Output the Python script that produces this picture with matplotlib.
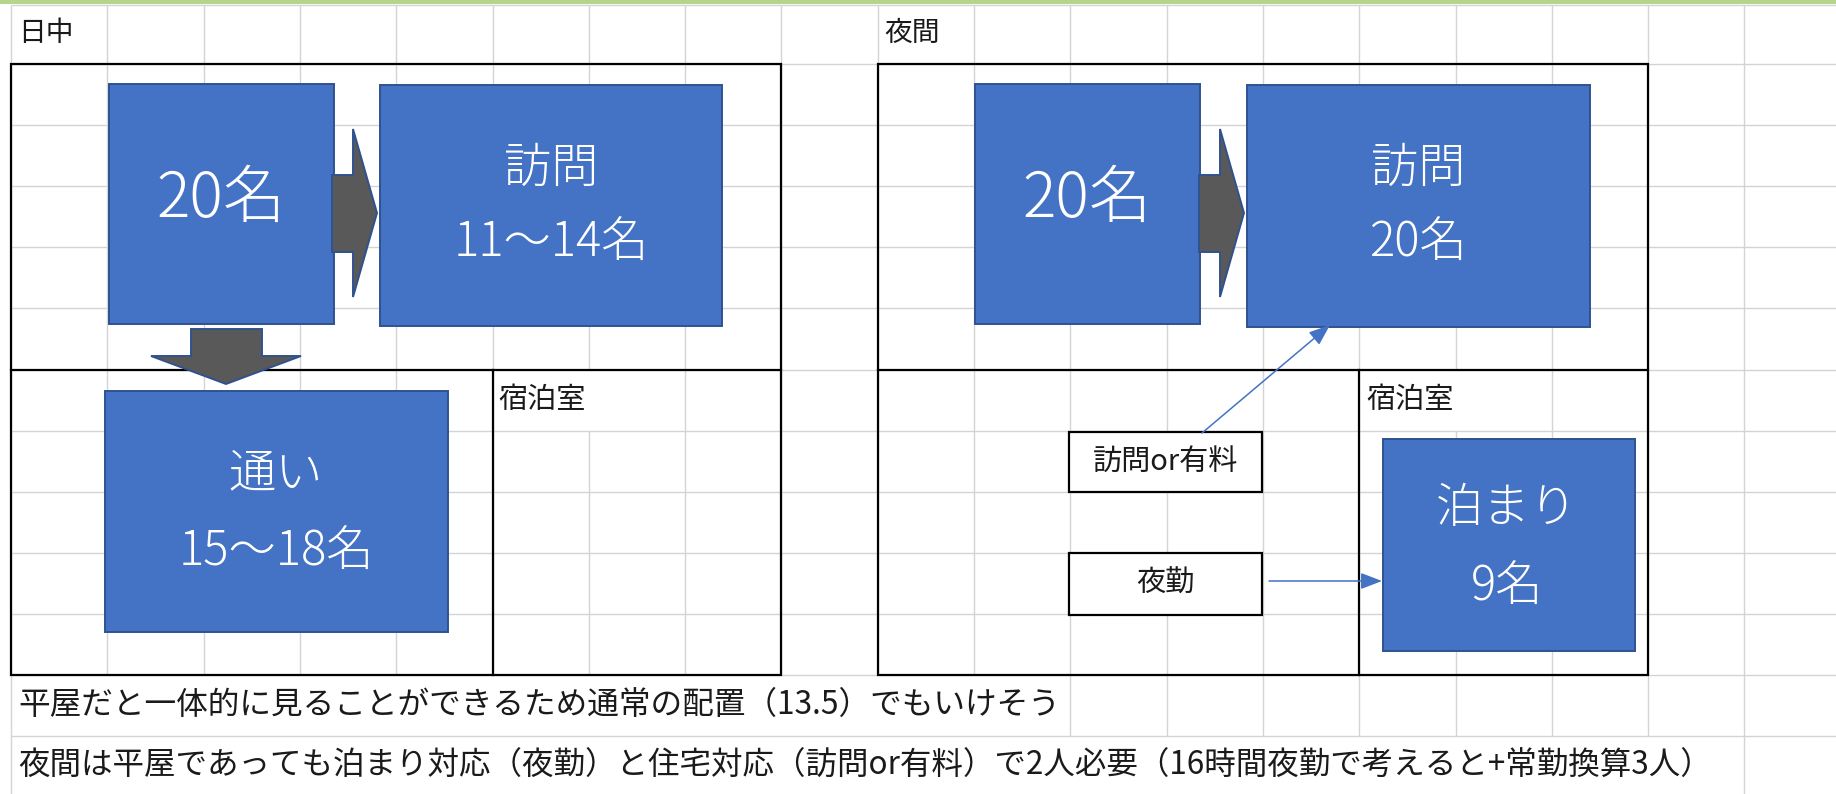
import matplotlib
matplotlib.use('Agg')
import matplotlib.pyplot as plt
from matplotlib.patches import Rectangle, Polygon, FancyArrowPatch
from matplotlib.collections import LineCollection

plt.rcParams['font.family'] = ['Noto Sans CJK JP', 'DejaVu Sans']

# ---------------- content ----------------
section_titles = ['日中', '夜間']
room_label = '宿泊室'
day_source_text = '20名'
day_visit_text = ['訪問', '11〜14名']
day_commute_text = ['通い', '15〜18名']
night_source_text = '20名'
night_visit_text = ['訪問', '20名']
night_stay_text = ['泊まり', '9名']
night_small_boxes = ['訪問or有料', '夜勤']
notes = ['平屋だと一体的に見ることができるため通常の配置（13.5）でもいけそう',
         '夜間は平屋であっても泊まり対応（夜勤）と住宅対応（訪問or有料）で2人必要（16時間夜勤で考えると+常勤換算3人）']

# ---------------- layout ----------------
W, H = 1836, 794
X0, CW = 11.0, 96.3
Y1, RH = 64.0, 61.1
NROW = 12

def gx(c):
    return X0 + c * CW

def gy(r):
    return Y1 + (r - 1) * RH

BLUE = '#4472C4'
BLUE_EDGE = '#2F528F'
GRAY_ARROW = '#595959'
GRID = '#D4D4D4'
TXT = '#1a1a1a'

fig = plt.figure(figsize=(W / 100, H / 100), dpi=100)
ax = fig.add_axes([0, 0, 1, 1])
ax.set_xlim(0, W)
ax.set_ylim(H, 0)
ax.axis('off')

# top green band
ax.add_patch(Rectangle((0, 0), W, 4, facecolor='#B7D48C', edgecolor='none', zorder=6))

# ---------------- gridlines ----------------
def row_span(r):
    if r == 0:
        return 5, gy(1)
    if r == NROW:
        return gy(NROW), H
    return gy(r), gy(r + 1)

hidden = set()
hidden.add((6, 6)); hidden.add((15, 6))
for k in range(1, 11):
    hidden.add((k, 11))
for k in range(1, 18):
    hidden.add((k, 12))

segs = []
for k in range(0, 19):
    x = gx(k)
    for r in range(0, NROW + 1):
        if (k, r) in hidden:
            continue
        y0, y1 = row_span(r)
        segs.append([(x, y0), (x, y1)])
for r in range(1, NROW + 1):
    segs.append([(X0, gy(r)), (W, gy(r))])
segs.append([(X0, 5), (W, 5)])
ax.add_collection(LineCollection(segs, colors=GRID, linewidths=1.0, zorder=1))

# ---------------- black borders ----------------
def section_border(c0, c1, csplit):
    ax.add_patch(Rectangle((gx(c0), gy(1)), gx(c1) - gx(c0), gy(11) - gy(1),
                           facecolor='none', edgecolor='black', linewidth=1.6, zorder=2))
    ax.plot([gx(c0), gx(c1)], [gy(6), gy(6)], color='black', lw=1.6, zorder=2)
    ax.plot([gx(csplit), gx(csplit)], [gy(6), gy(11)], color='black', lw=1.6, zorder=2)

section_border(0, 8, 5)
section_border(9, 17, 14)

# ---------------- boxes ----------------
def blue_box(x0, y0, x1, y1):
    ax.add_patch(Rectangle((x0, y0), x1 - x0, y1 - y0, facecolor=BLUE,
                           edgecolor=BLUE_EDGE, linewidth=1.4, zorder=3))

def white_box(x0, y0, x1, y1, text):
    ax.add_patch(Rectangle((x0, y0), x1 - x0, y1 - y0, facecolor='white',
                           edgecolor='black', linewidth=1.6, zorder=3))
    ax.text((x0 + x1) / 2, (y0 + y1) / 2, text, ha='center', va='center',
            fontsize=21, color=TXT, zorder=5)

def two_lines(cx, ya, yb, lines, size=34):
    ax.text(cx, ya, lines[0], ha='center', va='center', fontsize=size, color='white',
            fontweight='light', zorder=5)
    ax.text(cx, yb, lines[1], ha='center', va='center', fontsize=size, color='white',
            fontweight='light', zorder=5)

# day
blue_box(109, 84, 334, 324)
ax.text(221, 200, day_source_text, ha='center', va='center', fontsize=45, color='white',
        fontweight='light', zorder=5)
blue_box(380, 85, 722, 326)
two_lines(551, 168, 242, day_visit_text)
blue_box(105, 391, 448, 632)
two_lines(276, 474, 551, day_commute_text)

# night
blue_box(975, 84, 1200, 324)
ax.text(1087, 200, night_source_text, ha='center', va='center', fontsize=45, color='white',
        fontweight='light', zorder=5)
blue_box(1247, 85, 1590, 327)
two_lines(1418, 168, 242, night_visit_text)
blue_box(1383, 439, 1635, 651)
two_lines(1507, 508, 586, night_stay_text)

white_box(1069, 432, 1262, 492, night_small_boxes[0])
white_box(1069, 553, 1262, 615, night_small_boxes[1])

# ---------------- block arrows ----------------
def right_arrow(dx):
    pts = [(332, 175), (353, 175), (353, 129), (377, 213), (353, 297), (353, 252), (332, 252)]
    ax.add_patch(Polygon([(x + dx, y) for x, y in pts], closed=True, facecolor=GRAY_ARROW,
                         edgecolor=BLUE_EDGE, linewidth=1.4, zorder=4))

right_arrow(0)
right_arrow(867)
down_pts = [(191, 329), (262, 329), (262, 356), (301, 356), (226, 384), (151, 356), (191, 356)]
ax.add_patch(Polygon(down_pts, closed=True, facecolor=GRAY_ARROW, edgecolor=BLUE_EDGE,
                     linewidth=1.4, zorder=4))

# ---------------- connector arrows ----------------
for (p, q) in [((1202, 433), (1330, 325)), ((1269, 581), (1382, 581))]:
    ax.add_patch(FancyArrowPatch(p, q, arrowstyle='-|>,head_length=1.3,head_width=0.5',
                                 mutation_scale=10, color=BLUE, lw=1.1, shrinkA=0, shrinkB=0,
                                 zorder=4))

# ---------------- labels ----------------
ax.text(18, 33, section_titles[0], ha='left', va='center', fontsize=20, color=TXT, zorder=5)
ax.text(884, 33, section_titles[1], ha='left', va='center', fontsize=20, color=TXT, zorder=5)
ax.text(498, 400, room_label, ha='left', va='center', fontsize=21, color=TXT, zorder=5)
ax.text(1366, 400, room_label, ha='left', va='center', fontsize=21, color=TXT, zorder=5)

ax.text(18, 705, notes[0], ha='left', va='center', fontsize=22.8, color=TXT, zorder=5)
ax.text(18, 766, notes[1], ha='left', va='center', fontsize=22.7, color=TXT, zorder=5)

fig.savefig('out.png', dpi=100, facecolor='white')
